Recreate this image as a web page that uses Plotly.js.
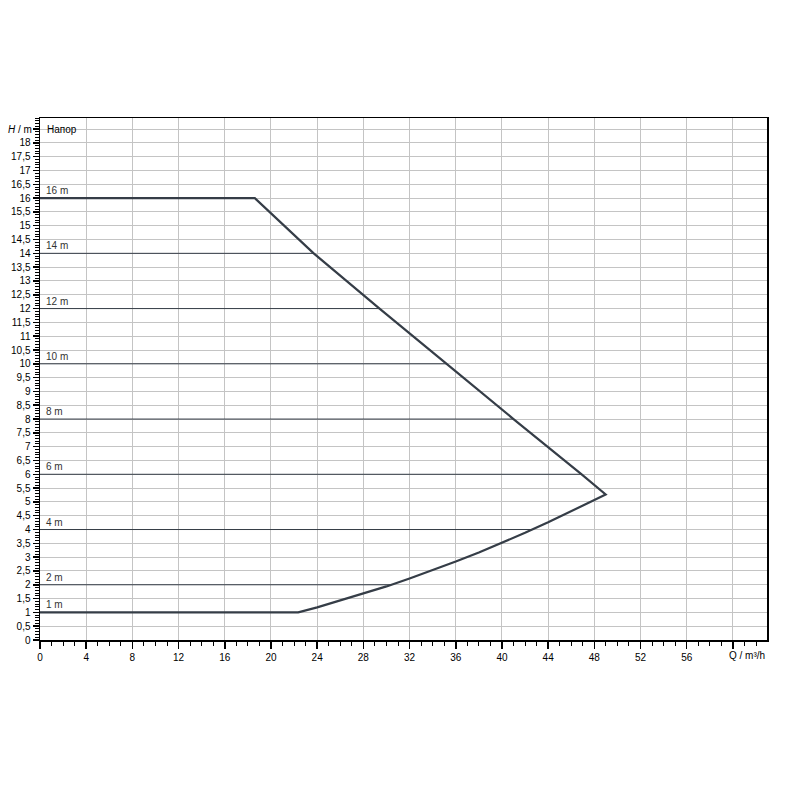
<!DOCTYPE html>
<html>
<head>
<meta charset="utf-8">
<script src="https://cdn.plot.ly/plotly-3.0.1.min.js"></script>
<style>html,body{margin:0;padding:0;background:#fff}#chart{width:800px;height:800px}</style>
</head>
<body>
<div id="chart"></div>
<script>
// Envelope of the pump working range (Q in m³/h, H in m)
var envelopeQ = [0, 18.6, 23.7, 29.4, 35.21, 41.0, 46.9, 48.98, 48, 46, 44, 42, 40, 38, 36, 34, 32, 30, 28, 26, 24, 22.36, 0];
var envelopeH = [16, 16, 14, 12, 10, 8, 6, 5.27, 5.07, 4.66, 4.26, 3.88, 3.52, 3.17, 2.84, 2.53, 2.23, 1.94, 1.68, 1.42, 1.18, 1.0, 1.0];

// Constant-head lines (thin) and where they meet the envelope
var isoHeads = [14, 12, 10, 8, 6, 4, 2];
var isoQmax = [23.7, 29.4, 35.21, 41.0, 46.9, 42.6, 30.4];

// Labels for head lines
var headLabels = [16, 14, 12, 10, 8, 6, 4, 2, 1];

// Tick values/labels
var xTickVals = [0, 4, 8, 12, 16, 20, 24, 28, 32, 36, 40, 44, 48, 52, 56, 60];
var xTickText = ['0', '4', '8', '12', '16', '20', '24', '28', '32', '36', '40', '44', '48', '52', '56', ''];
var yTickVals = [];
var yTickText = [];
for (var i = 0; i <= 37; i++) {
  var v = i * 0.5;
  yTickVals.push(v);
  yTickText.push(v <= 18 ? String(v).replace('.', ',') : '');
}

var lineColor = '#353d47';
var traces = [];
for (var k = 0; k < isoHeads.length; k++) {
  traces.push({
    x: [0, isoQmax[k]], y: [isoHeads[k], isoHeads[k]],
    mode: 'lines', line: {color: lineColor, width: 1}, hoverinfo: 'skip', showlegend: false
  });
}
traces.push({
  x: envelopeQ, y: envelopeH, mode: 'lines',
  line: {color: lineColor, width: 2.2}, hoverinfo: 'skip', showlegend: false
});

var fontFam = 'Liberation Sans, Arial, sans-serif';
var annotations = [];
headLabels.forEach(function (h) {
  annotations.push({
    x: 0, y: h, xref: 'x', yref: 'y', text: h + ' m', showarrow: false,
    xanchor: 'left', yanchor: 'bottom', xshift: 4, yshift: 0,
    font: {family: fontFam, size: 10, color: '#333'}
  });
});
annotations.push({
  x: 0, y: 18.5, xref: 'x', yref: 'y', text: 'Напор', showarrow: false,
  xanchor: 'left', yanchor: 'middle', xshift: 5,
  font: {family: fontFam, size: 10, color: '#000'}
});
annotations.push({
  x: 0, y: 18.5, xref: 'paper', yref: 'y', text: '<i>H</i> / m', showarrow: false,
  xanchor: 'right', yanchor: 'middle', xshift: -6,
  font: {family: fontFam, size: 10, color: '#000'}
});
annotations.push({
  x: 1, y: 0, xref: 'paper', yref: 'paper', text: 'Q / m³/h', showarrow: false,
  xanchor: 'right', yanchor: 'top', yshift: -8,
  font: {family: fontFam, size: 10, color: '#000'}
});

var layout = {
  width: 800, height: 800,
  margin: {l: 40, r: 33, t: 118, b: 160, pad: 0},
  paper_bgcolor: '#fff', plot_bgcolor: '#fff',
  separators: ',.',
  showlegend: false,
  font: {family: fontFam, size: 10, color: '#000'},
  xaxis: {
    range: [0, 62.95], tickmode: 'array', tickvals: xTickVals, ticktext: xTickText,
    showgrid: true, gridcolor: '#c4c4c4', gridwidth: 1, zeroline: false,
    showline: true, linecolor: '#000', linewidth: 1.5, mirror: true,
    ticks: 'outside', ticklen: 7, tickcolor: '#000', tickwidth: 1.5,
    tickfont: {size: 10, color: '#000'},
    minor: {dtick: 1, tick0: 0, ticks: 'outside', ticklen: 4, tickcolor: '#000', tickwidth: 1, showgrid: false},
    fixedrange: true
  },
  yaxis: {
    range: [0, 18.9], tickmode: 'array', tickvals: yTickVals, ticktext: yTickText,
    showgrid: true, gridcolor: '#c4c4c4', gridwidth: 1, zeroline: false,
    showline: true, linecolor: '#000', linewidth: 1.5, mirror: true,
    ticks: 'outside', ticklen: 6, tickcolor: '#000', tickwidth: 1.5,
    tickfont: {size: 10, color: '#000'},
    minor: {dtick: 0.1, tick0: 0, ticks: 'outside', ticklen: 4, tickcolor: '#000', tickwidth: 1, showgrid: false},
    fixedrange: true
  },
  annotations: annotations
};

Plotly.newPlot('chart', traces, layout, {staticPlot: true, displayModeBar: false});
</script>
</body>
</html>
